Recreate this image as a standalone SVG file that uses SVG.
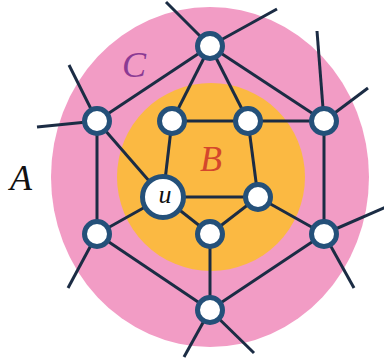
<svg xmlns="http://www.w3.org/2000/svg" width="384" height="360" viewBox="0 0 384 360">
<style>
.e{stroke:#1b2c44;stroke-width:3;stroke-linecap:butt;fill:none}
.n{fill:#fff;stroke:#245079;stroke-width:5}
.lbl{font-family:"Liberation Serif","DejaVu Serif",serif;font-style:italic}
</style>
<rect width="384" height="360" fill="#fff"/>
<g id="regionC"><ellipse cx="210" cy="177" rx="159" ry="170" fill="#f29cc5"/></g>
<g id="regionB"><circle cx="211" cy="177" r="94" fill="#fbb942"/></g>
<g id="connectors">
<line class="e" x1="210" y1="46" x2="166" y2="2"/>
<line class="e" x1="210" y1="46" x2="277" y2="9"/>
<line class="e" x1="210" y1="46" x2="97" y2="121"/>
<line class="e" x1="210" y1="46" x2="172" y2="121"/>
<line class="e" x1="210" y1="46" x2="248" y2="121"/>
<line class="e" x1="210" y1="46" x2="324" y2="121"/>
<line class="e" x1="97" y1="121" x2="69" y2="65"/>
<line class="e" x1="97" y1="121" x2="37" y2="127"/>
<line class="e" x1="97" y1="121" x2="97" y2="234"/>
<line class="e" x1="97" y1="121" x2="163" y2="197"/>
<line class="e" x1="172" y1="121" x2="248" y2="121"/>
<line class="e" x1="172" y1="121" x2="163" y2="197"/>
<line class="e" x1="248" y1="121" x2="258" y2="197"/>
<line class="e" x1="248" y1="121" x2="324" y2="121"/>
<line class="e" x1="324" y1="121" x2="317" y2="31"/>
<line class="e" x1="324" y1="121" x2="368" y2="88"/>
<line class="e" x1="324" y1="121" x2="324" y2="234"/>
<line class="e" x1="163" y1="197" x2="258" y2="197"/>
<line class="e" x1="163" y1="197" x2="210" y2="234"/>
<line class="e" x1="163" y1="197" x2="97" y2="234"/>
<line class="e" x1="258" y1="197" x2="210" y2="234"/>
<line class="e" x1="258" y1="197" x2="324" y2="234"/>
<line class="e" x1="210" y1="234" x2="210" y2="310"/>
<line class="e" x1="97" y1="234" x2="210" y2="310"/>
<line class="e" x1="324" y1="234" x2="210" y2="310"/>
<line class="e" x1="97" y1="234" x2="68" y2="288"/>
<line class="e" x1="324" y1="234" x2="386" y2="207"/>
<line class="e" x1="324" y1="234" x2="354" y2="288"/>
<line class="e" x1="210" y1="310" x2="184" y2="357"/>
<line class="e" x1="210" y1="310" x2="254" y2="353"/>
</g>
<g id="n_top"><circle class="n" cx="210" cy="46" r="12.5"/></g>
<g id="n_ul"><circle class="n" cx="97" cy="121" r="12.5"/></g>
<g id="n_iul"><circle class="n" cx="172" cy="121" r="12.5"/></g>
<g id="n_iur"><circle class="n" cx="248" cy="121" r="12.5"/></g>
<g id="n_ur"><circle class="n" cx="324" cy="121" r="12.5"/></g>
<g id="n_u"><circle class="n" cx="163" cy="197" r="20.5"/><text class="lbl" x="165" y="203" font-size="26" text-anchor="middle" fill="#111">u</text></g>
<g id="n_ilr"><circle class="n" cx="258" cy="197" r="12.5"/></g>
<g id="n_ib"><circle class="n" cx="210" cy="234" r="12.5"/></g>
<g id="n_ll"><circle class="n" cx="97" cy="234" r="12.5"/></g>
<g id="n_lr"><circle class="n" cx="324" cy="234" r="12.5"/></g>
<g id="n_bot"><circle class="n" cx="210" cy="310" r="12.5"/></g>
<g id="labels">
<text class="lbl" x="134" y="77" font-size="36" text-anchor="middle" fill="#8b3a93">C</text>
<text class="lbl" x="211" y="171" font-size="36" text-anchor="middle" fill="#d4472c">B</text>
<text class="lbl" x="21" y="190" font-size="36" text-anchor="middle" fill="#111">A</text>
</g>
</svg>
